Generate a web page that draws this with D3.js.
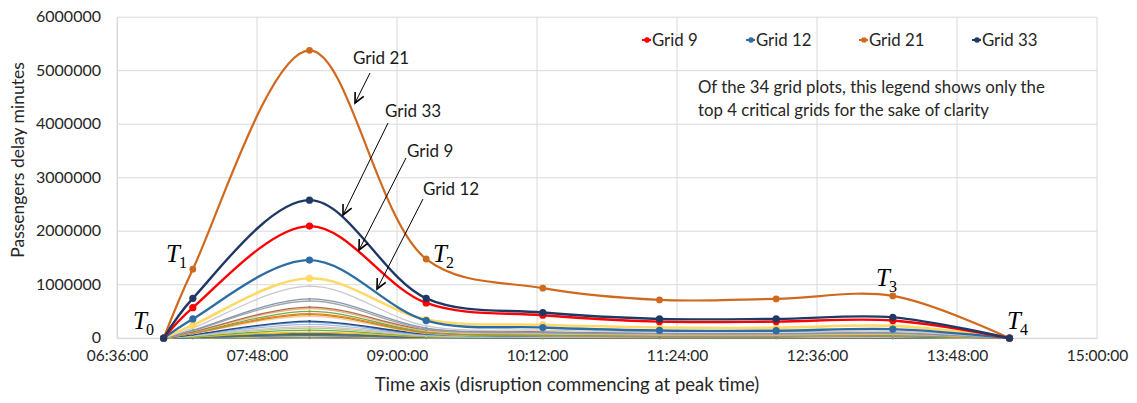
<!DOCTYPE html>
<html><head><meta charset="utf-8">
<script src="https://cdn.jsdelivr.net/npm/d3@7"></script>
<style>
html,body{margin:0;padding:0;background:#fff;}
svg{display:block;font-family:Lato,"Open Sans",sans-serif;}
</style></head>
<body>
<svg id="chart" width="1137" height="403"></svg>
<script>
// ---------- data ----------
const times = ["07:00:00","07:15:00","08:15:00","09:15:00","10:15:00","11:15:00","12:15:00","13:15:00","14:15:00"];
const xTickLabels = ["06:36:00","07:48:00","09:00:00","10:12:00","11:24:00","12:36:00","13:48:00","15:00:00"];
const yTickValues = [0,1000000,2000000,3000000,4000000,5000000,6000000];

const grid9  = [0, 570000, 2095000, 660000, 430000, 310000, 310000, 330000, 0];
const grid12 = [0, 360000, 1460000, 330000, 200000, 145000, 140000, 170000, 0];
const grid21 = [0, 1290000, 5380000, 1480000, 935000, 716000, 735000, 790000, 0];
const grid33 = [0, 745000, 2580000, 745000, 480000, 360000, 360000, 390000, 0];

// remaining grids (not in legend)
const gridA  = [0, 245000, 1120000, 350000, 250000, 200000, 195000, 230000, 0];
const gridB  = [0, 190000, 975000, 230000, 150000, 120000, 115000, 130000, 0];
const gridC  = [0, 150000, 735000, 190000, 110000, 90000, 85000, 95000, 0];
const gridD  = [0, 140000, 695000, 170000, 100000, 80000, 80000, 90000, 0];
const gridE  = [0, 120000, 580000, 160000, 120000, 85000, 85000, 100000, 0];
const gridF  = [0, 110000, 555000, 140000, 80000, 60000, 60000, 70000, 0];
const gridG  = [0, 100000, 500000, 120000, 60000, 50000, 50000, 55000, 0];
const gridH  = [0, 95000, 460000, 110000, 55000, 45000, 45000, 50000, 0];
const gridI  = [0, 90000, 440000, 100000, 50000, 40000, 40000, 45000, 0];
const gridJ  = [0, 85000, 410000, 90000, 45000, 38000, 36000, 42000, 0];
const gridK  = [0, 65000, 320000, 80000, 40000, 30000, 30000, 35000, 0];
const gridL  = [0, 60000, 300000, 70000, 35000, 28000, 27000, 32000, 0];
const gridM  = [0, 52000, 260000, 60000, 30000, 24000, 24000, 28000, 0];
const gridN  = [0, 45000, 215000, 52000, 26000, 20000, 20000, 24000, 0];
const gridO  = [0, 40000, 190000, 45000, 22000, 18000, 18000, 20000, 0];
const gridP  = [0, 32000, 150000, 38000, 18000, 15000, 15000, 17000, 0];
const gridQ  = [0, 25000, 115000, 30000, 15000, 12000, 12000, 14000, 0];
const gridR  = [0, 20000, 90000, 25000, 12000, 10000, 10000, 11000, 0];
const gridS  = [0, 16000, 75000, 20000, 10000, 8000, 8000, 9000, 0];
const gridT  = [0, 13000, 62000, 16000, 8000, 7000, 7000, 8000, 0];
const gridU  = [0, 11000, 52000, 14000, 7000, 6000, 6000, 7000, 0];
const gridV  = [0, 9000, 44000, 12000, 6000, 5000, 5000, 6000, 0];
const gridW  = [0, 8000, 37000, 10000, 5000, 4000, 4000, 5000, 0];
const gridX  = [0, 7000, 30000, 8000, 4000, 3500, 3500, 4000, 0];
const gridY  = [0, 5000, 24000, 6000, 3000, 2500, 2500, 3000, 0];
const gridZ  = [0, 4000, 18000, 5000, 2500, 2000, 2000, 2500, 0];
const gridAA = [0, 3000, 13000, 3500, 2000, 1500, 1500, 1800, 0];
const gridAB = [0, 2000, 9000, 2500, 1200, 1000, 1000, 1200, 0];
const gridAC = [0, 1200, 5000, 1500, 800, 600, 600, 700, 0];
const gridAD = [0, 600, 2500, 800, 400, 300, 300, 350, 0];

const legendNames = ["Grid 9","Grid 12","Grid 21","Grid 33"];
const noteLines = ["Of the 34 grid plots, this legend shows only the","top 4 critical grids for the sake of clarity"];

// ---------- series styling ----------
const others = [
  {v:gridAD,c:"#D9EAD3"},{v:gridAC,c:"#A9C5E5"},{v:gridAB,c:"#636363"},{v:gridAA,c:"#D26012"},
  {v:gridZ,c:"#8CC168"},{v:gridY,c:"#698ED0"},{v:gridX,c:"#997300"},{v:gridW,c:"#C5E0B4"},
  {v:gridV,c:"#B4C7E7"},{v:gridU,c:"#255E91"},{v:gridT,c:"#7F7F7F"},{v:gridS,c:"#43682B"},
  {v:gridR,c:"#4472C4"},{v:gridQ,c:"#FFC000"},{v:gridP,c:"#70AD47"},{v:gridO,c:"#A9D18E"},
  {v:gridN,c:"#E6B9B8"},{v:gridM,c:"#9DC3E6"},{v:gridL,c:"#5B9BD5"},{v:gridK,c:"#264478"},
  {v:gridJ,c:"#F8CBAD"},{v:gridI,c:"#BF9000"},{v:gridH,c:"#ED7D31"},{v:gridG,c:"#70AD47"},
  {v:gridF,c:"#F4B183"},{v:gridE,c:"#A9714A"},{v:gridD,c:"#A5A5A5"},{v:gridC,c:"#8497B0"},
  {v:gridB,c:"#C9C9C9"}
];
const main = [
  {v:gridA, c:"#FFD966", w:2.6, r:3.6},
  {v:grid12,c:"#2E6DA4", w:2.4, r:3.6},
  {v:grid9, c:"#FF0000", w:2.4, r:3.6},
  {v:grid21,c:"#D0691E", w:2.2, r:3.4},
  {v:grid33,c:"#203864", w:2.4, r:3.6}
];
const legendColors = ["#FF0000","#2E6DA4","#D0691E","#203864"];

// ---------- scales ----------
const parse = d3.timeParse("%H:%M:%S");
const svg = d3.select("#chart");
const x = d3.scaleTime().domain([parse("06:36:00"), parse("15:00:00")]).range([117, 1097]);
const y = d3.scaleLinear().domain([0, 6000000]).range([338.2, 17.2]);
const xTicks = xTickLabels.map(parse);

// gridlines
const g = svg.append("g");
g.selectAll("line.h").data(yTickValues).join("line")
  .attr("x1", x.range()[0]).attr("x2", x.range()[1])
  .attr("y1", d=>y(d)).attr("y2", d=>y(d))
  .attr("stroke", "#D9D9D9").attr("stroke-width", 1);
g.selectAll("line.v").data(xTicks).join("line")
  .attr("x1", d=>x(d)).attr("x2", d=>x(d))
  .attr("y1", y.range()[0]).attr("y2", y.range()[1])
  .attr("stroke", "#D9D9D9").attr("stroke-width", 1);

// axes
const yAxis = svg.append("g").attr("transform", `translate(${x.range()[0]},0)`)
  .call(d3.axisLeft(y).tickValues(yTickValues).tickFormat(d3.format("d")).tickSize(0).tickPadding(16));
const xAxis = svg.append("g").attr("transform", `translate(0,${y.range()[0]})`)
  .call(d3.axisBottom(x).tickValues(xTicks).tickFormat(d3.timeFormat("%H:%M:%S")).tickSize(0).tickPadding(12));
[yAxis, xAxis].forEach(a => {
  a.select(".domain").attr("stroke", "#D9D9D9");
  a.selectAll("text").attr("fill", "#262626").style("font-family", "Lato, sans-serif");
});
yAxis.selectAll("text").style("font-size", "16px").attr("dy", "0.28em");
xAxis.selectAll("text").style("font-size", "15.5px");

// axis titles
svg.append("text").attr("transform", "translate(24,160) rotate(-90)")
  .attr("text-anchor", "middle").attr("fill", "#262626").style("font-size", "17.5px")
  .text("Passengers delay minutes");
svg.append("text").attr("x", 567).attr("y", 391)
  .attr("text-anchor", "middle").attr("fill", "#262626").style("font-size", "18.5px")
  .text("Time axis (disruption commencing at peak time)");

// lines
const line = d3.line().x((d,i)=>x(parse(times[i]))).y(d=>y(d)).curve(d3.curveCatmullRom.alpha(0.5));
const lg = svg.append("g").attr("fill", "none");
others.forEach(s => {
  lg.append("path").attr("d", line(s.v)).attr("stroke", s.c).attr("stroke-width", 1.3).attr("fill","none");
  lg.selectAll(null).data(s.v).join("circle")
    .attr("cx", (d,i)=>x(parse(times[i]))).attr("cy", d=>y(d)).attr("r", 1.1).attr("fill", s.c);
});
main.forEach(s => {
  lg.append("path").attr("d", line(s.v)).attr("stroke", s.c).attr("stroke-width", s.w).attr("fill","none");
  lg.selectAll(null).data(s.v).join("circle")
    .attr("cx", (d,i)=>x(parse(times[i]))).attr("cy", d=>y(d)).attr("r", s.r).attr("fill", s.c);
});

// legend
const legendX = [647, 751, 864, 977];
const leg = svg.append("g");
legendNames.forEach((n,i) => {
  const lx = legendX[i];
  leg.append("line").attr("x1", lx-5).attr("x2", lx+4).attr("y1", 40).attr("y2", 40)
    .attr("stroke", legendColors[i]).attr("stroke-width", 2);
  leg.append("circle").attr("cx", lx).attr("cy", 40).attr("r", 2.8).attr("fill", legendColors[i]);
  leg.append("text").attr("x", lx+5).attr("y", 46).attr("fill", "#262626")
    .style("font-size", "16.8px").text(n);
});
noteLines.forEach((t,i) => {
  svg.append("text").attr("x", 698).attr("y", 93 + i*23).attr("fill", "#262626")
    .style("font-size", "16.8px").text(t);
});

// annotations
const ann = [
  {t:"Grid 21", tx:353, ty:64, x1:370, y1:73, x2:355, y2:103},
  {t:"Grid 33", tx:385, ty:117, x1:388, y1:123, x2:343, y2:215},
  {t:"Grid 9",  tx:407, ty:157, x1:406, y1:158, x2:359, y2:250},
  {t:"Grid 12", tx:423, ty:195, x1:423, y1:199, x2:377, y2:289}
];
const ag = svg.append("g");
ann.forEach(a => {
  ag.append("text").attr("x", a.tx).attr("y", a.ty).attr("fill", "#1a1a1a").style("font-size", "17px").text(a.t);
  ag.append("line").attr("x1", a.x1).attr("y1", a.y1).attr("x2", a.x2).attr("y2", a.y2)
    .attr("stroke", "#000").attr("stroke-width", 1);
  const ang = Math.atan2(a.y2-a.y1, a.x2-a.x1);
  const L = 11, spread = 0.45;
  const p1 = [a.x2 - L*Math.cos(ang-spread), a.y2 - L*Math.sin(ang-spread)];
  const p2 = [a.x2 - L*Math.cos(ang+spread), a.y2 - L*Math.sin(ang+spread)];
  ag.append("path").attr("d", `M${p1[0]},${p1[1]}L${a.x2},${a.y2}L${p2[0]},${p2[1]}`)
    .attr("stroke", "#000").attr("stroke-width", 1.6).attr("fill", "none");
});

// T labels
const tLabels = [
  {s:"0", x:133, y:329},
  {s:"1", x:166, y:262},
  {s:"2", x:433, y:262},
  {s:"3", x:876, y:286},
  {s:"4", x:1007, y:329}
];
tLabels.forEach(t => {
  const tt = svg.append("text").attr("x", t.x).attr("y", t.y).attr("fill", "#000")
    .style("font-family", "'Liberation Serif', 'DejaVu Serif', serif");
  tt.append("tspan").style("font-style", "italic").style("font-size", "25px").text("T");
  tt.append("tspan").attr("dy", 6).attr("dx", -1).style("font-size", "16px").text(t.s);
});
</script>
</body></html>
